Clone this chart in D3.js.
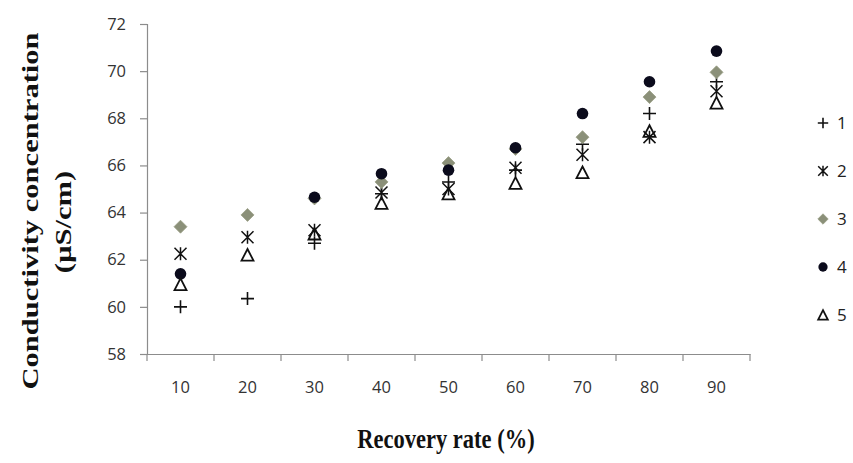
<!DOCTYPE html>
<html>
<head>
<meta charset="utf-8">
<script src="https://cdn.jsdelivr.net/npm/d3@7"></script>
<style>
  html, body { margin: 0; padding: 0; background: #fff; }
  svg { display: block; }
</style>
</head>
<body>
<svg id="chart" width="853" height="463"></svg>
<script>
// ---- data ----
const categories = ["10", "20", "30", "40", "50", "60", "70", "80", "90"];
const seriesNames = ["1", "2", "3", "4", "5"];
const s1 = [60.0, 60.35, 62.7, 64.8, 65.3, 65.8, 66.9, 68.2, 69.55];
const s2 = [62.25, 62.95, 63.25, 64.85, 65.0, 65.9, 66.45, 67.2, 69.15];
const s3 = [63.4, 63.9, 64.6, 65.3, 66.1, 66.7, 67.2, 68.9, 69.95];
const s4 = [61.4, null, 64.65, 65.65, 65.8, 66.75, 68.2, 69.55, 70.85];
const s5 = [60.95, 62.2, 63.1, 64.4, 64.8, 65.25, 65.7, 67.45, 68.65];
const yTicks = [58, 60, 62, 64, 66, 68, 70, 72];
const seriesValues = [s1, s2, s3, s4, s5];

// ---- layout ----
const svg = d3.select("#chart");
const x = d3.scaleBand().domain(categories).range([147, 750]);
const y = d3.scaleLinear().domain([58, 72]).range([354, 24]);

const axisColor = "#8c8c8c";
const tickFont = "'Open Sans', 'Liberation Sans', sans-serif";

// y axis
const yAxis = svg.append("g").attr("transform", "translate(147,0)")
  .call(d3.axisLeft(y).tickValues(yTicks).tickSize(7).tickPadding(14).tickFormat(d3.format("d")));
yAxis.select(".domain").attr("stroke", axisColor).attr("stroke-width", 1.2);
yAxis.selectAll(".tick line").attr("stroke", axisColor).attr("stroke-width", 1.2);
yAxis.selectAll(".tick text").attr("font-family", tickFont).attr("font-size", 16.5).attr("fill", "#333");

// x axis
const xAxis = svg.append("g").attr("transform", "translate(0,354)")
  .call(d3.axisBottom(x).tickSize(0).tickPadding(27));
xAxis.select(".domain").attr("stroke", axisColor).attr("stroke-width", 1.2);
xAxis.selectAll(".tick text").attr("font-family", tickFont).attr("font-size", 16.5).attr("fill", "#333");
// band boundary ticks
const bounds = categories.map(c => x(c)).concat([x.range()[1]]);
svg.append("g").selectAll("line").data(bounds).join("line")
  .attr("x1", d => d).attr("x2", d => d)
  .attr("y1", 354).attr("y2", 361)
  .attr("stroke", axisColor).attr("stroke-width", 1.2);

// ---- markers ----
function drawMarker(g, idx, cx, cy, scale) {
  const s = scale || 1;
  if (idx === 0) { // plus
    const a = 6.5 * s;
    g.append("path").attr("d", `M${cx - a},${cy}H${cx + a}M${cx},${cy - a}V${cy + a}`)
      .attr("stroke", "#111").attr("stroke-width", 1.6).attr("fill", "none");
  } else if (idx === 1) { // star (x + vertical)
    const a = 6 * s, b = 6.5 * s;
    g.append("path").attr("d", `M${cx - a},${cy - a}L${cx + a},${cy + a}M${cx + a},${cy - a}L${cx - a},${cy + a}M${cx},${cy - b}V${cy + b}`)
      .attr("stroke", "#111").attr("stroke-width", 1.5).attr("fill", "none");
  } else if (idx === 2) { // diamond
    const a = 6.5 * s;
    g.append("path").attr("d", `M${cx},${cy - a}L${cx + a},${cy}L${cx},${cy + a}L${cx - a},${cy}Z`)
      .attr("fill", "#8b9079").attr("stroke", "#9a9f86").attr("stroke-width", 0.8);
  } else if (idx === 3) { // circle
    g.append("circle").attr("cx", cx).attr("cy", cy).attr("r", 5.8 * s)
      .attr("fill", "#0b0b1c");
  } else { // hollow triangle
    const a = 6 * s;
    g.append("path").attr("d", `M${cx},${cy - a}L${cx + a},${cy + a * 0.95}L${cx - a},${cy + a * 0.95}Z`)
      .attr("fill", "none").attr("stroke", "#111").attr("stroke-width", 1.8).attr("stroke-linejoin", "miter");
  }
}

const plot = svg.append("g");
seriesValues.forEach((vals, si) => {
  const g = plot.append("g");
  vals.forEach((v, i) => {
    if (v === null) return;
    drawMarker(g, si, x(categories[i]) + x.bandwidth() / 2, y(v));
  });
});

// ---- legend ----
const legendY = [123, 171, 219, 267, 315];
const legend = svg.append("g");
seriesNames.forEach((name, i) => {
  drawMarker(legend, i, 823, legendY[i], 0.8);
  legend.append("text").attr("x", 837).attr("y", legendY[i]).attr("dy", "0.36em")
    .attr("font-family", tickFont).attr("font-size", 17).attr("fill", "#222").text(name);
});

// ---- titles ----
const titleFont = "'Liberation Serif', 'Times New Roman', serif";
svg.append("text").attr("transform", "translate(446,448) scale(1,1.2)").attr("text-anchor", "middle")
  .attr("font-family", titleFont).attr("font-weight", "bold").attr("font-size", 22.5)
  .attr("fill", "#111").text("Recovery rate (%)");
svg.append("text").attr("transform", "translate(38,211) rotate(-90) scale(1.3,1)").attr("text-anchor", "middle")
  .attr("font-family", titleFont).attr("font-weight", "bold").attr("font-size", 23.5)
  .attr("fill", "#111").text("Conductivity concentration");
svg.append("text").attr("transform", "translate(71,222) rotate(-90) scale(1.3,1)").attr("text-anchor", "middle")
  .attr("font-family", titleFont).attr("font-weight", "bold").attr("font-size", 23.5)
  .attr("fill", "#111").text("(µS/cm)");
</script>
</body>
</html>
